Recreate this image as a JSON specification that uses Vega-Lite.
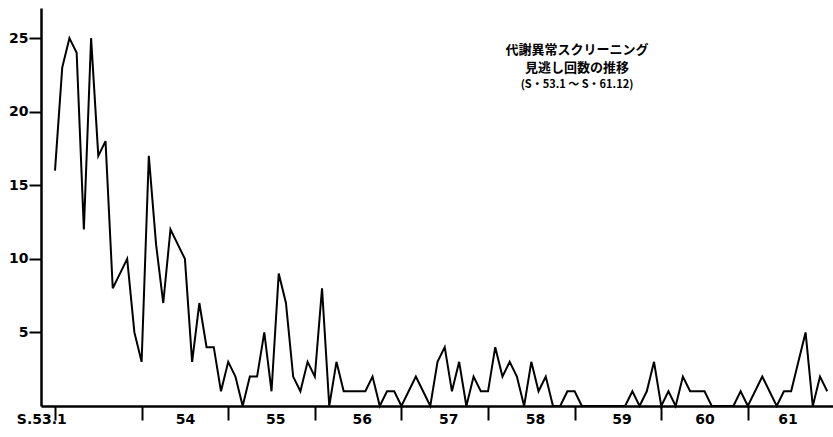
{
  "$schema": "https://vega.github.io/schema/vega-lite/v6.json",
  "width": 792,
  "height": 398,
  "autosize": {"type": "none"},
  "padding": {"left": 41, "top": 8, "right": 0, "bottom": 31},
  "background": "white",
  "config": {
    "view": {"stroke": null},
    "axis": {"grid": false, "domainColor": "black", "tickColor": "black", "labelColor": "black", "labelFont": "DejaVu Sans", "labelFontWeight": "bold", "labelFontSize": 14}
  },
  "title": {
    "text": ["代謝異常スクリーニング", "見逃し回数の推移"],
    "subtitle": "(S・53.1 ～ S・61.12)",
    "anchor": "middle",
    "orient": "top",
    "dx": 140,
    "offset": -82,
    "font": "Noto Sans CJK JP",
    "fontWeight": "bold",
    "fontSize": 13,
    "lineHeight": 18,
    "color": "black",
    "subtitleFont": "Noto Sans CJK JP",
    "subtitleFontWeight": "bold",
    "subtitleFontSize": 11,
    "subtitleColor": "black",
    "subtitlePadding": 4
  },
  "data": {
    "values": [
      {"m": 0, "v": 16}, {"m": 1, "v": 23}, {"m": 2, "v": 25}, {"m": 3, "v": 24}, {"m": 4, "v": 12}, {"m": 5, "v": 25},
      {"m": 6, "v": 17}, {"m": 7, "v": 18}, {"m": 8, "v": 8}, {"m": 9, "v": 9}, {"m": 10, "v": 10}, {"m": 11, "v": 5},
      {"m": 12, "v": 3}, {"m": 13, "v": 17}, {"m": 14, "v": 11}, {"m": 15, "v": 7}, {"m": 16, "v": 12}, {"m": 17, "v": 11},
      {"m": 18, "v": 10}, {"m": 19, "v": 3}, {"m": 20, "v": 7}, {"m": 21, "v": 4}, {"m": 22, "v": 4}, {"m": 23, "v": 1},
      {"m": 24, "v": 3}, {"m": 25, "v": 2}, {"m": 26, "v": 0}, {"m": 27, "v": 2}, {"m": 28, "v": 2}, {"m": 29, "v": 5},
      {"m": 30, "v": 1}, {"m": 31, "v": 9}, {"m": 32, "v": 7}, {"m": 33, "v": 2}, {"m": 34, "v": 1}, {"m": 35, "v": 3},
      {"m": 36, "v": 2}, {"m": 37, "v": 8}, {"m": 38, "v": 0}, {"m": 39, "v": 3}, {"m": 40, "v": 1}, {"m": 41, "v": 1},
      {"m": 42, "v": 1}, {"m": 43, "v": 1}, {"m": 44, "v": 2}, {"m": 45, "v": 0}, {"m": 46, "v": 1}, {"m": 47, "v": 1},
      {"m": 48, "v": 0}, {"m": 49, "v": 1}, {"m": 50, "v": 2}, {"m": 51, "v": 1}, {"m": 52, "v": 0}, {"m": 53, "v": 3},
      {"m": 54, "v": 4}, {"m": 55, "v": 1}, {"m": 56, "v": 3}, {"m": 57, "v": 0}, {"m": 58, "v": 2}, {"m": 59, "v": 1},
      {"m": 60, "v": 1}, {"m": 61, "v": 4}, {"m": 62, "v": 2}, {"m": 63, "v": 3}, {"m": 64, "v": 2}, {"m": 65, "v": 0},
      {"m": 66, "v": 3}, {"m": 67, "v": 1}, {"m": 68, "v": 2}, {"m": 69, "v": 0}, {"m": 70, "v": 0}, {"m": 71, "v": 1},
      {"m": 72, "v": 1}, {"m": 73, "v": 0}, {"m": 74, "v": 0}, {"m": 75, "v": 0}, {"m": 76, "v": 0}, {"m": 77, "v": 0},
      {"m": 78, "v": 0}, {"m": 79, "v": 0}, {"m": 80, "v": 1}, {"m": 81, "v": 0}, {"m": 82, "v": 1}, {"m": 83, "v": 3},
      {"m": 84, "v": 0}, {"m": 85, "v": 1}, {"m": 86, "v": 0}, {"m": 87, "v": 2}, {"m": 88, "v": 1}, {"m": 89, "v": 1},
      {"m": 90, "v": 1}, {"m": 91, "v": 0}, {"m": 92, "v": 0}, {"m": 93, "v": 0}, {"m": 94, "v": 0}, {"m": 95, "v": 1},
      {"m": 96, "v": 0}, {"m": 97, "v": 1}, {"m": 98, "v": 2}, {"m": 99, "v": 1}, {"m": 100, "v": 0}, {"m": 101, "v": 1},
      {"m": 102, "v": 1}, {"m": 103, "v": 3}, {"m": 104, "v": 5}, {"m": 105, "v": 0}, {"m": 106, "v": 2}, {"m": 107, "v": 1}
    ]
  },
  "mark": {"type": "line", "color": "black", "strokeWidth": 2, "strokeJoin": "miter", "clip": false},
  "encoding": {
    "x": {
      "field": "m",
      "type": "quantitative",
      "scale": {"domain": [-1.94, 107.8], "nice": false, "zero": false},
      "axis": {
        "title": null,
        "values": [-1.9, 0, 12, 18, 24, 30.5, 36, 42.5, 48, 54.5, 60, 66.5, 72, 78.5, 84, 90, 96, 101.5],
        "labelExpr": "datum.value < 0 ? 'S.53.1' : (datum.value % 12 == 0 ? '' : '' + (53 + floor(datum.value / 12)))",
        "labelOverlap": false,
        "labelFlush": false,
        "labelBound": false,
        "labelPadding": -8,
        "labelBaseline": "top",
        "domainWidth": 2.5,
        "tickWidth": 2,
        "tickSize": 14,
        "tickOpacity": {"condition": {"test": "datum.value >= 0 && datum.value % 12 == 0", "value": 1}, "value": 0}
      }
    },
    "y": {
      "field": "v",
      "type": "quantitative",
      "scale": {"domain": [0, 27.05], "nice": false},
      "axis": {
        "title": null,
        "values": [5, 10, 15, 20, 25],
        "domainWidth": 2.5,
        "tickWidth": 2,
        "tickSize": 12,
        "labelPadding": 1
      }
    }
  }
}
